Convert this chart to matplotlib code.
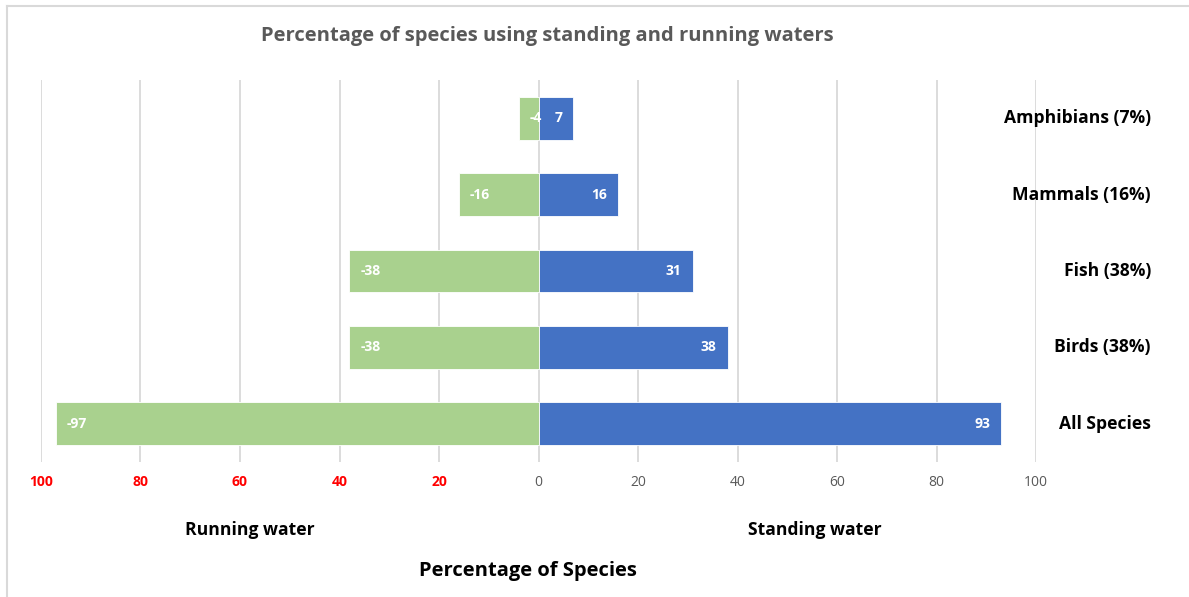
import matplotlib.pyplot as plt
from matplotlib.lines import Line2D
from matplotlib import transforms

plt.rcParams['font.family'] = ['Open Sans', 'DejaVu Sans']

# data (bottom to top)
categories = ['All Species', 'Birds (38%)', 'Fish (38%)', 'Mammals (16%)', 'Amphibians (7%)']
running = [-97, -38, -38, -16, -4]
standing = [93, 38, 31, 16, 7]
tick_vals = [-100, -80, -60, -40, -20, 0, 20, 40, 60, 80, 100]
tick_text = ['100', '80', '60', '40', '20', '0', '20', '40', '60', '80', '100']

W, H = 1189, 597
fig = plt.figure(figsize=(W / 100, H / 100), dpi=100)
ax = fig.add_axes([41 / W, (H - 462) / H, 995 / W, 382 / H])

y = list(range(len(categories)))
bars_l = ax.barh(y, running, height=0.56, color='#a9d18e', edgecolor='white', linewidth=0.6, zorder=3)
bars_r = ax.barh(y, standing, height=0.56, color='#4472c4', edgecolor='white', linewidth=0.6, zorder=3)

for b, v in zip(bars_l, running):
    ax.annotate(str(v), (v, b.get_y() + b.get_height() / 2), xytext=(11, 0),
                textcoords='offset pixels', ha='left', va='center',
                color='white', fontsize=10, fontweight='bold', zorder=4)
for b, v in zip(bars_r, standing):
    ax.annotate(str(v), (v, b.get_y() + b.get_height() / 2), xytext=(-11, 0),
                textcoords='offset pixels', ha='right', va='center',
                color='white', fontsize=10, fontweight='bold', zorder=4)

ax.set_xlim(-100, 100)
ax.set_ylim(-0.5, len(categories) - 0.5)
ax.set_xticks(tick_vals)
ax.set_xticklabels(tick_text)
for lab, v in zip(ax.get_xticklabels(), tick_vals):
    if v < 0:
        lab.set_color('#ff0000')
        lab.set_fontweight('bold')
    else:
        lab.set_color('#595959')
    lab.set_fontsize(10)
ax.tick_params(axis='x', length=0, pad=9)
ax.set_yticks([])
ax.grid(axis='x', color='#d9d9d9', linewidth=1.3, zorder=0)
for s in ax.spines.values():
    s.set_visible(False)

# category labels on the right
trans = transforms.blended_transform_factory(fig.transFigure, ax.transData)
for i, c in enumerate(categories):
    ax.text(1151 / W, i, c, transform=trans, ha='right', va='center',
            fontsize=12.6, fontweight='bold', color='black', clip_on=False)

fig.text(547 / W, 1 - 36 / H, 'Percentage of species using standing and running waters',
         ha='center', va='center', fontsize=14.5, fontweight='bold', color='#595959')
fig.text(250 / W, 1 - 530 / H, 'Running water', ha='center', va='center',
         fontsize=12.6, fontweight='bold', color='black')
fig.text(815 / W, 1 - 530 / H, 'Standing water', ha='center', va='center',
         fontsize=12.6, fontweight='bold', color='black')
fig.text(528 / W, 1 - 571 / H, 'Percentage of Species', ha='center', va='center',
         fontsize=14.5, fontweight='bold', color='black')

# light frame at top and left
fig.add_artist(Line2D([7 / W, 1], [1 - 6 / H, 1 - 6 / H], transform=fig.transFigure, color='#d9d9d9', lw=1.5))
fig.add_artist(Line2D([7 / W, 7 / W], [0, 1 - 6 / H], transform=fig.transFigure, color='#d9d9d9', lw=1.5))

fig.savefig('out.png', dpi=100)
